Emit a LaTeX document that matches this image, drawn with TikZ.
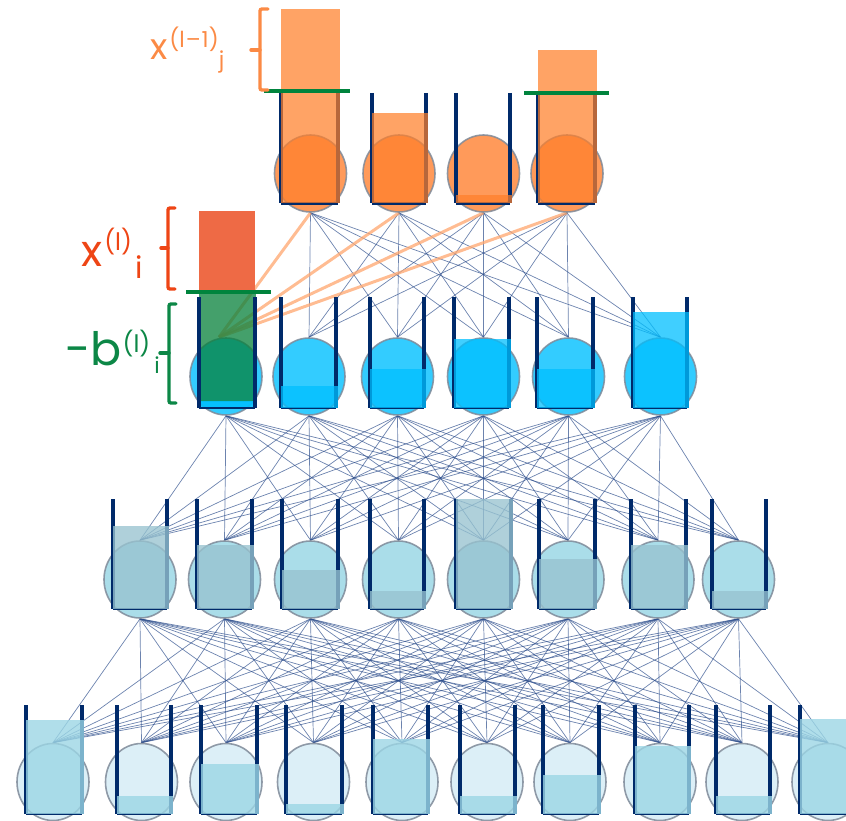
\documentclass[tikz,border=0pt]{standalone}
\usepackage{fontspec}
\newfontfamily\labelfont{Poppins}
\usetikzlibrary{shapes.geometric}
\pgfdeclarelayer{links}
\pgfsetlayers{links,main}

\definecolor{navy}{HTML}{002A6A}
\definecolor{linkblue}{HTML}{2D4E8C}
\definecolor{ringgray}{HTML}{7F8A99}
\definecolor{orangecirc}{HTML}{FF9A5A}
\definecolor{orangefill}{HTML}{FF7F2A}
\definecolor{hotorange}{HTML}{FFA66E}
\definecolor{cyancirc}{HTML}{33CCFF}
\definecolor{cyanfill}{HTML}{00BFFF}
\definecolor{tealcirc}{HTML}{AADDE9}
\definecolor{tealfill}{HTML}{98C3D0}
\definecolor{palecirc}{HTML}{DCEFF7}
\definecolor{palefill}{HTML}{9CD6E5}
\definecolor{biasgreen}{HTML}{05803A}
\definecolor{thresh}{HTML}{00843D}
\definecolor{actred}{HTML}{EE6A45}
\definecolor{lblorange}{HTML}{FB8A45}
\definecolor{lblred}{HTML}{EE4515}
\definecolor{lblgreen}{HTML}{0C8746}

\tikzset{
  neuron/.style={ellipse, minimum width=72pt, minimum height=77pt, inner sep=0pt,
    draw=ringgray, draw opacity=0.85, line width=1.6pt},
  link/.style={draw=linkblue, line width=0.7pt, opacity=0.7},
  hotlink/.style={draw=hotorange, line width=3pt, opacity=0.75},
  wall/.style={draw=navy, line width=3.4pt},
  floorline/.style={draw=navy, line width=2.6pt},
  level/.style={draw=thresh, line width=4pt},
  bracket/.style={line width=3.4pt, line cap=round, rounded corners=2pt},
  label/.style={anchor=base west, inner sep=0pt, font=\labelfont},
}

% one bucket: walls, floor and the semi-transparent level inside it
\newcommand\bucket[6]{% left, right, top, bottom, level top, fill style
  \draw[wall] (#1,#3) -- (#1,#4);
  \draw[wall] (#2,#3) -- (#2,#4);
  \draw[floorline] (#1,#4) -- (#2,#4);
  \fill[#6] (#1,#5) rectangle (#2+1.5,#4-0.5);
}

\begin{document}
\begin{tikzpicture}[x=1pt,y=-1pt]
\useasboundingbox (0,0) rectangle (846,821);

% ---- layer l-1 (orange) ----
\foreach \c/\l/\r/\f [count=\i] in {310.5/281/338/9, 399/372/426/113, 483.5/456/510/195, 567/538/595/50}{
  \node[neuron, fill=orangecirc] (a\i) at (\c,173.5) {};
  \bucket{\l}{\r}{93}{203.5}{\f}{orangefill, opacity=0.72}
}

% ---- layer l (cyan) ----
\foreach \c/\l/\r/\f [count=\i] in {226/199/255/401, 309/281/336/386, 397.5/370/424/369, 483.5/454/509/339, 568.5/537/593/369, 660.5/633/687/312}{
  \node[neuron, fill=cyancirc] (b\i) at (\c,376.5) {};
  \ifnum\i>1
    \bucket{\l}{\r}{297}{408}{\f}{cyanfill, opacity=0.75}
  \fi
}

% first neuron of layer l: activation bar above the threshold, bias below it
\fill[actred] (199,211) rectangle (255,292);
\fill[biasgreen, opacity=0.75] (199,292) rectangle (256,402);
\fill[cyanfill, opacity=0.9] (199,401) rectangle (256,408);
\draw[wall] (199,297) -- (199,408);
\draw[wall] (255,297) -- (255,408);
\draw[floorline] (199,408) -- (255,408);

% ---- layer l+1 (teal) ----
\foreach \c/\l/\r/\f [count=\i] in {140/113/167/526, 224.5/197/252/545, 310.5/282/338/570, 398.5/370/424/591, 483.5/456/511/499, 568/539/595/559, 658/631/686/545, 738.5/712/766/591}{
  \node[neuron, fill=tealcirc] (c\i) at (\c,579.5) {};
  \bucket{\l}{\r}{499}{609}{\f}{tealfill, opacity=0.78}
}

% ---- layer l+2 (pale) ----
\foreach \c/\l/\r/\f [count=\i] in {53/26/82/720, 141.5/117/171/796, 226/201/257/764, 313.5/286/342/804, 402/373/428/739, 487/460/515/796, 570/543/599/775, 660/635/689/746, 742/716/770/796, 828/800/855/719}{
  \node[neuron, fill=palecirc] (d\i) at (\c,782) {};
  \bucket{\l}{\r}{705}{814}{\f}{palefill, opacity=0.8}
}

% thresholds
\draw[level] (264,91) -- (350,91);
\draw[level] (524,93) -- (609,93);
\draw[level] (186,292) -- (271,292);

% ---- connections ----
\begin{pgfonlayer}{links}
  \foreach \i in {1,...,4}{
    \foreach \j in {2,...,6}{ \draw[link] (a\i.south) -- (b\j.north); }
  }
  \foreach \i in {1,...,6}{
    \foreach \j in {1,...,8}{ \draw[link] (b\i.south) -- (c\j.north); }
  }
  \foreach \i in {1,...,8}{
    \foreach \j in {1,...,10}{ \draw[link] (c\i.south) -- (d\j.north); }
  }
  \foreach \i in {1,...,4}{ \draw[hotlink] (a\i.south) -- ([xshift=-7pt]b1.north); }
\end{pgfonlayer}

% ---- brackets ----
\draw[bracket, lblorange] (268,9) -- (260,9) -- (260,90) -- (268,90);
\draw[bracket, lblorange] (260,50) -- (251,50);
\draw[bracket, lblred] (175,208) -- (168,208) -- (168,289) -- (175,289);
\draw[bracket, lblred] (168,248) -- (161,248);
\draw[bracket, lblgreen] (176,304) -- (169,304) -- (169,403) -- (176,403);
\draw[bracket, lblgreen] (169,353) -- (160,353);

% ---- labels ----
\node[label, text=lblorange] (xprev) at (150,60)
  {\fontsize{36}{36}\selectfont x\kern2pt\raisebox{12pt}{\fontsize{22}{22}\selectfont (l\kern1pt–\kern1pt1)}\raisebox{-8pt}{\fontsize{22}{22}\selectfont j}};
\node[label, text=lblred] (xcur) at (81,266)
  {\fontsize{44}{44}\selectfont x\kern2pt\raisebox{16pt}{\fontsize{24}{24}\selectfont (l)}\kern4pt\raisebox{-12pt}{\fontsize{30}{30}\selectfont i}};
\node[label, text=lblgreen] (bias) at (65,365)
  {\fontsize{46}{46}\selectfont -b\kern1pt\raisebox{13pt}{\fontsize{24}{24}\selectfont (l)}\kern4pt\raisebox{-8pt}{\fontsize{22}{22}\selectfont i}};
\end{tikzpicture}
\end{document}
